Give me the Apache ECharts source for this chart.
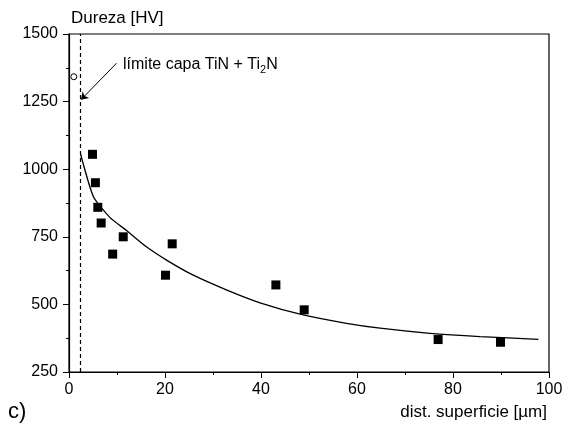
<!DOCTYPE html>
<html><head><meta charset="utf-8">
<script src="https://cdn.jsdelivr.net/npm/echarts@6/dist/echarts.min.js"></script>
<style>html,body{margin:0;padding:0;background:#fff}#c{width:568px;height:427px}</style>
</head><body><div id="c"></div>
<script>
// Measured hardness points [distance µm, HV]
const squareX = [4.9, 5.5, 6.0, 6.7, 9.1, 11.3, 20.1, 21.5, 43.1, 49.0, 76.9, 89.9];
const squareY = [1055, 950, 859, 801, 686, 750, 608, 724, 572, 480, 370, 360];
// Surface layer point (open circle)
const circleX = [1.0];
const circleY = [1342];
// Fitted curve
const curveX = [2.4, 5.1, 8.5, 12.0, 16.2, 20.4, 25.9, 32.9, 39.8, 48.8, 57.8, 64.8, 75.2, 85.6, 97.8];
const curveY = [1057, 898, 822, 773, 712, 663, 608, 553, 506, 461, 430, 412, 393, 381, 371];
// Layer limit
const limitX = 2.4;
const arrowFrom = [9.9, 1392];
const arrowTo = [2.5, 1257];
const yTicks = [250, 500, 750, 1000, 1250, 1500];
const xTicks = [0, 20, 40, 60, 80, 100];

const zip = (a, b) => a.map((v, i) => [v, b[i]]);
const font = 'Liberation Sans, Arial, sans-serif';
const chart = echarts.init(document.getElementById('c'), null, {renderer: 'canvas'});
chart.setOption({
  animation: false,
  backgroundColor: '#fff',
  grid: {left: 69, right: 19, top: 34, bottom: 55, show: true, borderColor: '#000', borderWidth: 1.2, backgroundColor: 'transparent'},
  xAxis: {
    type: 'value', min: xTicks[0], max: xTicks[xTicks.length - 1], interval: 20,
    axisLine: {lineStyle: {color: '#000', width: 1.2}},
    axisTick: {inside: false, length: 6, lineStyle: {color: '#000'}},
    minorTick: {show: true, splitNumber: 2, length: 3, lineStyle: {color: '#000'}},
    splitLine: {show: false},
    axisLabel: {color: '#000', fontFamily: font, fontSize: 16, margin: 10, formatter: v => String(v)}
  },
  yAxis: {
    type: 'value', min: yTicks[0], max: yTicks[yTicks.length - 1], interval: 250,
    name: 'Dureza [HV]', nameLocation: 'end', nameGap: 7,
    nameTextStyle: {color: '#000', fontFamily: font, fontSize: 17, align: 'left', padding: [0, 0, 0, 2]},
    axisLine: {lineStyle: {color: '#000', width: 1.2}},
    axisTick: {inside: false, length: 6, lineStyle: {color: '#000'}},
    minorTick: {show: true, splitNumber: 2, length: 3, lineStyle: {color: '#000'}},
    splitLine: {show: false},
    axisLabel: {color: '#000', fontFamily: font, fontSize: 16, margin: 11, formatter: v => String(v)}
  },
  series: [
    {
      type: 'line', data: zip(curveX, curveY), showSymbol: false, smooth: 0.2,
      lineStyle: {color: '#000', width: 1.3}, z: 2,
      markLine: {
        silent: true, symbol: 'none', label: {show: false},
        lineStyle: {color: '#000', type: [4, 3], width: 1.2},
        data: [{xAxis: limitX}]
      }
    },
    {
      type: 'line', data: [], showSymbol: false,
      markLine: {
        silent: true, label: {show: false},
        lineStyle: {color: '#000', type: 'solid', width: 1},
        symbolSize: 7,
        data: [[{coord: arrowFrom, symbol: 'none'}, {coord: arrowTo, symbol: 'arrow'}]]
      }
    },
    {
      type: 'scatter', data: zip(squareX, squareY), symbol: 'rect', symbolSize: 9,
      itemStyle: {color: '#000', opacity: 1}, z: 3
    },
    {
      type: 'scatter', data: zip(circleX, circleY), symbol: 'circle', symbolSize: 6,
      itemStyle: {color: '#fff', borderColor: '#000', borderWidth: 1, opacity: 1}, z: 3
    }
  ],
  graphic: [
    {type: 'text', left: 123, top: 57, style: {
      text: '{a|límite capa TiN + Ti}{s|2}{a|N}',
      rich: {a: {fontFamily: font, fontSize: 16, fill: '#000'}, s: {fontFamily: font, fontSize: 11, fill: '#000', padding: [9, 0, 0, 0]}}
    }},
    {type: 'text', right: 21, top: 404, style: {text: 'dist. superficie [µm]', fontFamily: font, fontSize: 17, fill: '#000'}},
    {type: 'text', left: 8, top: 401, style: {text: 'c)', fontFamily: font, fontSize: 22, fill: '#000'}}
  ]
});
</script></body></html>
